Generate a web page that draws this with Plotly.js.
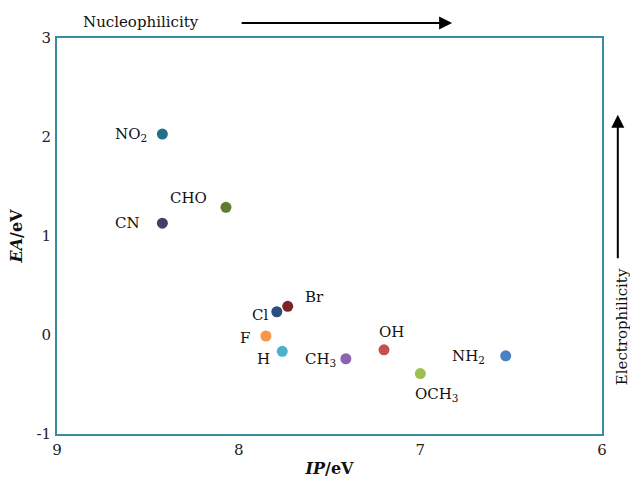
<!DOCTYPE html>
<html><head><meta charset="utf-8">
<script src="https://cdn.plot.ly/plotly-3.0.1.min.js"></script>
<style>html,body{margin:0;padding:0;background:#fff}#chart{width:630px;height:478px}</style>
</head><body><div id="chart"></div>
<script>
// Data
const groups = ['NO<sub>2</sub>','CHO','CN','Br','Cl','F','H','CH<sub>3</sub>','OH','OCH<sub>3</sub>','NH<sub>2</sub>'];
const IP = [8.42, 8.07, 8.42, 7.73, 7.79, 7.85, 7.76, 7.41, 7.20, 7.00, 6.53];
const EA = [2.03, 1.29, 1.13, 0.29, 0.235, -0.01, -0.165, -0.24, -0.15, -0.39, -0.21];
const xTicks = [9, 8, 7, 6];
const yTicks = [-1, 0, 1, 2, 3];

// Styles
const colors = ['#21708a','#5f7b2d','#4b3b69','#7f2327','#284f7d','#f7964a','#4cb0cc','#8c63b0','#c44f4c','#9bbf55','#4a80c4'];
const lblAnchor = ['right','right','right','left','right','right','right','right','center','center','right'];
const lblDx = [-13,-17,-20,15,-7,-14,-10,-8,7,17,-19];
const lblDy = [0,9,0,9,-3,-2,-8,-1,18,-21,-1];

const serif = 'DejaVu Serif, Liberation Serif, serif';
const borderColor = '#3a8ca3';

const trace = {
  type: 'scatter', mode: 'markers',
  x: IP, y: EA,
  marker: {size: 11, color: colors},
  hoverinfo: 'skip', showlegend: false, cliponaxis: false
};

const annotations = groups.map((g, i) => ({
  x: IP[i], y: EA[i], xref: 'x', yref: 'y', text: g, showarrow: false,
  xanchor: lblAnchor[i], yanchor: 'middle', xshift: lblDx[i], yshift: lblDy[i],
  font: {family: serif, size: 15, color: '#111'}
}));

annotations.push(
  {xref:'paper', yref:'paper', x:0.155, y:1.04, text:'Nucleophilicity', showarrow:false,
   xanchor:'center', yanchor:'middle', font:{family:serif, size:15, color:'#111'}},
  {xref:'paper', yref:'paper', x:0.725, y:1.038, text:'', showarrow:true,
   ax:-212, ay:0, arrowhead:2, arrowsize:1.3, arrowwidth:2, arrowcolor:'#000'},
  {xref:'paper', yref:'paper', x:1.037, y:0.27, text:'Electrophilicity', textangle:-90, showarrow:false,
   xanchor:'center', yanchor:'middle', font:{family:serif, size:15, color:'#111'}},
  {xref:'paper', yref:'paper', x:1.029, y:0.806, text:'', showarrow:true,
   ax:0, ay:145, arrowhead:2, arrowsize:1.3, arrowwidth:2, arrowcolor:'#000'}
);

const layout = {
  width: 630, height: 478,
  margin: {l: 57, r: 28, t: 38, b: 44},
  paper_bgcolor: '#fff', plot_bgcolor: '#fff',
  xaxis: {
    range: [9, 6], tickvals: xTicks, ticktext: xTicks.map(String),
    showgrid: false, zeroline: false, showline: true, mirror: true,
    linecolor: borderColor, linewidth: 2, ticks: '', ticklabelstandoff: 1,
    tickfont: {family: serif, size: 15, color: '#222'},
    title: {text: '<b><i>IP</i>/eV</b>', font: {family: serif, size: 16, color: '#111'}, standoff: 5}
  },
  yaxis: {
    range: [-1, 3], tickvals: yTicks, ticktext: yTicks.map(String),
    showgrid: false, zeroline: false, showline: true, mirror: true,
    linecolor: borderColor, linewidth: 2, ticks: '', ticklabelstandoff: 1,
    tickfont: {family: serif, size: 15, color: '#222'},
    title: {text: '<b><i>EA</i>/eV</b>', font: {family: serif, size: 16, color: '#111'}, standoff: 10}
  },
  annotations: annotations
};

Plotly.newPlot('chart', [trace], layout, {displayModeBar: false, staticPlot: true});
</script></body></html>
